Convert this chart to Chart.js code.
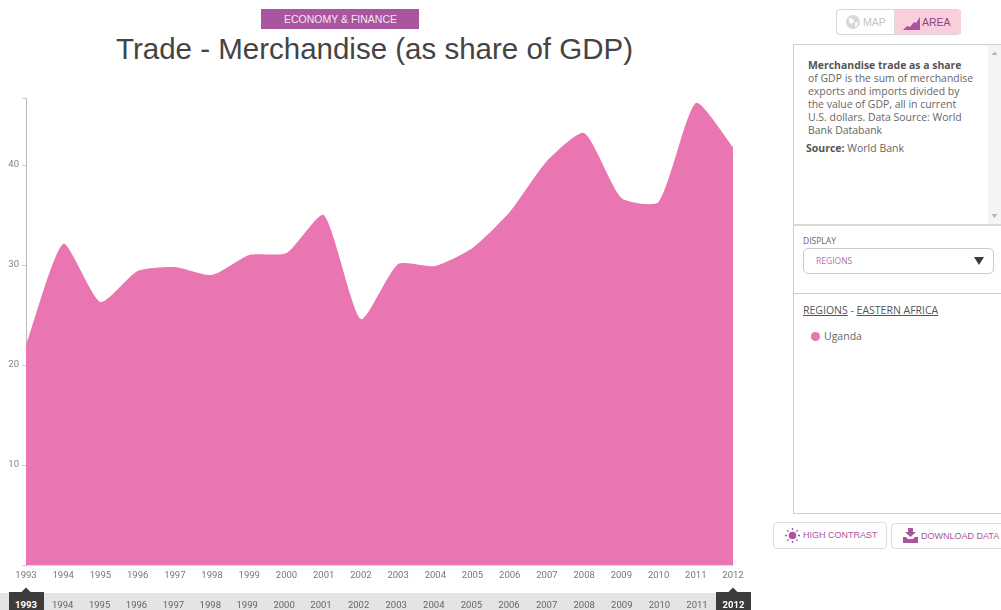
<!DOCTYPE html>
<html><head><meta charset="utf-8">
<script src="https://cdn.jsdelivr.net/npm/chart.js@4"></script>
<style>
html,body{margin:0;padding:0;background:#fff;overflow:hidden}
body{width:1001px;height:610px;position:relative;font-family:"Open Sans",sans-serif;color:#555}
.abs{position:absolute;white-space:nowrap}
#cv{position:absolute;left:0;top:0}
.yr{position:absolute;top:598px;width:36px;margin-left:-18px;text-align:center;font:9.500px Roboto,sans-serif;color:#666;line-height:14px}
.yr.on{color:#fff;font-weight:700}
.btn{position:absolute;box-sizing:border-box;border:1px solid #ddd;border-radius:4px;background:#fff;font:9px "Liberation Sans",sans-serif;color:#a9559f}
</style></head><body>
<div class="abs" style="left:261px;top:9px;width:157px;padding-left:1px;height:20px;background:#a9559f;border:0;color:#f6e6f4;font:10.5px/20px 'Liberation Sans',sans-serif;text-align:center">ECONOMY &amp; FINANCE</div>
<div class="abs" style="left:0;width:749px;top:30px;text-align:center;font:29.500px/38px 'Liberation Sans',sans-serif;color:#444">Trade - Merchandise (as share of GDP)</div>
<canvas id="cv" width="770" height="590"></canvas>
<div class="abs" style="left:0;top:593px;width:751px;height:17px;background:#e4e4e4"></div>
<div class="abs" style="left:9px;top:592px;width:35px;height:18px;background:#3c3c3c"></div>
<div class="abs" style="left:716px;top:592px;width:35px;height:18px;background:#3c3c3c"></div>
<svg class="abs" style="left:0;top:586px" width="760" height="7"><path d="M21 6.500L26 1.500L31 6.500ZM728 6.500L733 1.500L738 6.500Z" fill="#3c3c3c"/></svg>
<div id="yrs"></div>

<div class="abs" style="left:836px;top:9px;width:125px;height:26px;box-sizing:border-box;border:1px solid #d5d5d5;border-radius:4px;background:#fff"></div>
<div class="abs" style="left:894px;top:10px;width:66px;height:24px;background:#f9cfdc;border-left:1px solid #ddd"></div>
<svg class="abs" style="left:845px;top:14px" width="16" height="16"><circle cx="8" cy="8" r="7" fill="#d8d8d8"/><path d="M4 4l4 1 1 3-3 2-2-3zM10 9l3-1-1 4-2 1z" fill="#fff"/></svg>
<div class="abs" style="left:863px;top:16px;font:10.5px/13px 'Liberation Sans',sans-serif;color:#c4c4c4">MAP</div>
<svg class="abs" style="left:903px;top:16px" width="18" height="15"><path d="M0 14L4 10L7 11L11 6L13 7L17 1V14Z" fill="#a9559f"/></svg>
<div class="abs" style="left:922px;top:16px;font:10.5px/13px 'Liberation Sans',sans-serif;color:#8e3f86">AREA</div>

<div class="abs" style="left:793px;top:44px;width:215px;height:470px;box-sizing:border-box;border:1px solid #cfcfcf"></div>
<div class="abs" style="left:988px;top:45px;width:13px;height:179px;background:#f4f4f4"></div>
<svg class="abs" style="left:988px;top:48px" width="13" height="174"><path d="M3.500 7L6.500 3.500L9.500 7ZM3.500 166L6.500 170L9.500 166Z" fill="#b5b5b5"/></svg>
<div class="abs" style="left:808px;top:58.500px;font:10.450px/13.100px 'Open Sans',sans-serif;color:#666"><b style="color:#555">Merchandise trade as a share</b><br>of GDP is the sum of merchandise<br>exports and imports divided by<br>the value of GDP, all in current<br>U.S. dollars. Data Source: World<br>Bank Databank</div>
<div class="abs" style="left:806px;top:141px;font:10.500px/14px 'Open Sans',sans-serif;color:#666"><b style="color:#555">Source:</b> World Bank</div>
<div class="abs" style="left:794px;top:224px;width:207px;height:2px;background:#d8d8d8"></div>
<div class="abs" style="left:803px;top:235px;font:8.500px/11px 'Open Sans',sans-serif;color:#666">DISPLAY</div>
<div class="abs" style="left:803px;top:248px;width:191px;height:26px;box-sizing:border-box;border:1px solid #ccc;border-radius:5px"></div>
<div class="abs" style="left:816px;top:255px;font:8.500px/12px 'Open Sans',sans-serif;color:#b56fae">REGIONS</div>
<svg class="abs" style="left:973px;top:256px" width="12" height="10"><path d="M1 1H11L6 9Z" fill="#3c3c3c"/></svg>
<div class="abs" style="left:794px;top:293px;width:207px;height:1px;background:#ccc"></div>
<div class="abs" style="left:803px;top:303px;font:10.500px/14px 'Open Sans',sans-serif;color:#555"><u>REGIONS</u> - <u>EASTERN AFRICA</u></div>
<div class="abs" id="swatch" style="left:811px;top:332px;width:8.500px;height:8.500px;border-radius:50%;background:#e976b1"></div>
<div class="abs" id="lg" style="left:824px;top:329px;font:10.500px/15px 'Open Sans',sans-serif;color:#666"></div>

<div class="btn" style="left:773px;top:522px;width:114px;height:27px"></div>
<svg class="abs" style="left:784px;top:527px" width="17" height="17"><circle cx="8.500" cy="8.500" r="3.800" fill="#a9559f"/><g stroke="#a9559f" stroke-width="1.300"><path d="M8.500 1v2M8.500 14v2M1 8.500h2M14 8.500h2M3.200 3.200l1.400 1.400M12.400 12.400l1.400 1.400M3.200 13.800l1.400-1.400M12.400 4.600l1.400-1.400"/></g></svg>
<div class="abs" style="left:803px;top:529px;font:9px/12px 'Liberation Sans',sans-serif;color:#a9559f">HIGH CONTRAST</div>
<div class="btn" style="left:891px;top:523px;width:115px;height:26px"></div>
<svg class="abs" style="left:903px;top:528px" width="15" height="15"><path d="M5 0H10V4H13L7.500 9L2 4H5ZM0 9H3L5 11H10L12 9H15V15H0Z" fill="#a9559f"/></svg>
<div class="abs" style="left:921px;top:530px;font:9px/12px 'Liberation Sans',sans-serif;color:#a9559f">DOWNLOAD DATA</div>

<script>
const categories=[1993,1994,1995,1996,1997,1998,1999,2000,2001,2002,2003,2004,2005,2006,2007,2008,2009,2010,2011,2012];
const seriesName='Uganda';
const tradeShare=[22.0,32.1,26.3,29.4,29.8,29.0,31.0,31.2,35.0,24.6,30.1,29.9,31.7,35.3,40.4,43.2,36.7,36.3,46.2,41.8];
const yTicks=[10,20,30,40];
const yMax=46.7;

document.getElementById('lg').textContent=seriesName;
const yrs=document.getElementById('yrs');
categories.forEach((c,i)=>{
  const d=document.createElement('div');
  const first=i===0,last=i===categories.length-1;
  d.className='yr'+(first||last?' on':'');
  const x=first?26:last?733.5:(i<=7?62.7+36.9*(i-1):321+37.6*(i-8));
  d.style.left=x+'px';
  d.textContent=c;
  yrs.appendChild(d);
});

new Chart(document.getElementById('cv'),{
  type:'line',
  data:{labels:categories.map(String),datasets:[{
    label:seriesName,data:tradeShare,fill:'origin',
    backgroundColor:'#e976b1',borderColor:'#e976b1',borderWidth:0,
    pointRadius:0,tension:0.2
  }]},
  options:{
    responsive:false,animation:false,
    layout:{padding:{top:98,left:0,right:37,bottom:0}},
    plugins:{legend:{display:false},tooltip:{enabled:false},title:{display:false}},
    scales:{
      x:{type:'category',offset:false,
        border:{color:'#ddd'},
        grid:{display:false,drawTicks:false},
        afterFit(s){s.height=25;},
        ticks:{autoSkip:false,maxRotation:0,color:'#777',padding:5,font:{family:'Roboto',size:9.5}}},
      y:{min:0,max:yMax,
        afterBuildTicks(s){s.ticks=[0,...yTicks,yMax].map(v=>({value:v}));},
        afterFit(s){s.width=26;},
        border:{color:'#bbb',width:1},
        grid:{display:true,drawOnChartArea:false,drawTicks:true,tickLength:4,color:'#ccc'},
        ticks:{color:'#8a7f77',padding:3,font:{family:'Roboto',size:9.5},
          callback:v=>yTicks.includes(v)?String(v):''}}
    }
  }
});
</script>
</body></html>
